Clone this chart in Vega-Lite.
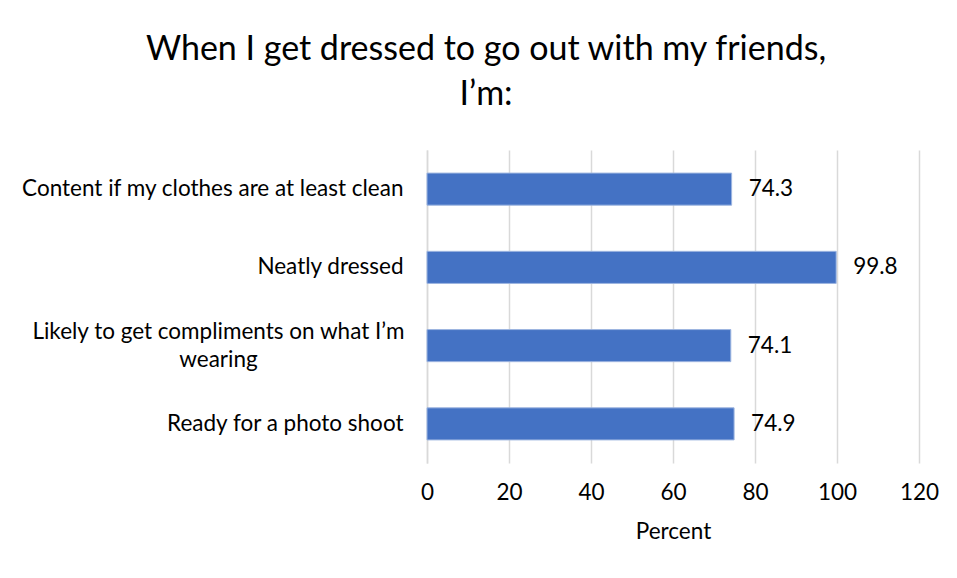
{
  "$schema": "https://vega.github.io/schema/vega-lite/v6.json",
  "autosize": {"type": "none"},
  "width": 492,
  "height": 313,
  "padding": {"left": 427, "top": 150, "right": 38, "bottom": 115},
  "background": "white",
  "config": {"view": {"stroke": null}, "font": "Lato"},
  "title": {
    "text": ["When I get dressed to go out with my friends,", "I’m:"],
    "anchor": "middle",
    "frame": "group",
    "dx": -187,
    "fontSize": 34,
    "font": "Lato",
    "fontWeight": "normal",
    "color": "#000000",
    "lineHeight": 45,
    "offset": 38
  },
  "data": {
    "values": [
      {"label": "Content if my clothes are at least clean", "value": 74.3},
      {"label": "Neatly dressed", "value": 99.8},
      {"label": "Likely to get compliments on what I’m wearing", "value": 74.1},
      {"label": "Ready for a photo shoot", "value": 74.9}
    ]
  },
  "encoding": {
    "y": {
      "field": "label",
      "type": "nominal",
      "sort": null,
      "scale": {"paddingInner": 0.59, "paddingOuter": 0.295},
      "axis": {
        "title": null,
        "domain": true,
        "domainColor": "#d9d9d9",
        "domainWidth": 1.5,
        "ticks": false,
        "labelFontSize": 22.5,
        "labelColor": "#000000",
        "labelLimit": 600,
        "labelLineHeight": 28,
        "labelExpr": "datum.label == 'Likely to get compliments on what I’m wearing' ? ['Likely to get compliments on what I’m', 'wearing'] : datum.label",
        "labelAlign": {"condition": {"test": "datum.value == 'Likely to get compliments on what I’m wearing'", "value": "center"}, "value": "right"},
        "labelPadding": {"condition": {"test": "datum.value == 'Likely to get compliments on what I’m wearing'", "value": 209}, "value": 24},
        "labelOffset": {"condition": {"test": "datum.value == 'Likely to get compliments on what I’m wearing'", "value": -14}, "value": 0}
      }
    }
  },
  "layer": [
    {
      "mark": {"type": "bar", "color": "#4472C4", "stroke": "#9db5e0", "strokeWidth": 1},
      "encoding": {
        "x": {
          "field": "value",
          "type": "quantitative",
          "scale": {"domain": [0, 120], "nice": false},
          "axis": {
            "values": [0, 20, 40, 60, 80, 100, 120],
            "grid": true,
            "gridColor": "#d9d9d9",
            "gridWidth": 1.5,
            "domain": false,
            "ticks": false,
            "labelFlush": false,
            "labelPadding": 18,
            "labelFontSize": 22.5,
            "labelColor": "#000000",
            "title": "Percent",
            "titleFontSize": 22.5,
            "titleFontWeight": "normal",
            "titleColor": "#000000",
            "titlePadding": 17
          }
        }
      }
    },
    {
      "mark": {"type": "text", "align": "left", "baseline": "middle", "dx": 17, "fontSize": 22.5, "color": "#000000"},
      "encoding": {
        "x": {"field": "value", "type": "quantitative"},
        "text": {"field": "value", "type": "quantitative", "format": ".1f"}
      }
    }
  ]
}
